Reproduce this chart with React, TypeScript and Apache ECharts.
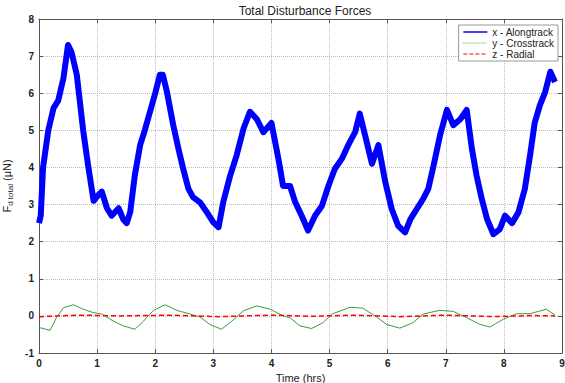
import React, { useEffect, useRef } from "react";
import * as echarts from "echarts";

const timeAlong = [0.0, 0.03, 0.07, 0.16, 0.25, 0.33, 0.42, 0.5, 0.56, 0.65, 0.76, 0.85, 0.94, 0.99, 1.08, 1.17, 1.25, 1.37, 1.45, 1.51, 1.57, 1.65, 1.74, 1.82, 1.91, 2.0, 2.08, 2.13, 2.2, 2.31, 2.4, 2.48, 2.57, 2.65, 2.77, 2.89, 3.0, 3.09, 3.17, 3.29, 3.4, 3.52, 3.63, 3.75, 3.86, 4.0, 4.12, 4.2, 4.32, 4.41, 4.52, 4.63, 4.75, 4.87, 4.98, 5.09, 5.21, 5.32, 5.44, 5.52, 5.64, 5.73, 5.84, 5.96, 6.07, 6.18, 6.3, 6.39, 6.5, 6.61, 6.7, 6.79, 6.9, 7.02, 7.13, 7.25, 7.36, 7.45, 7.53, 7.62, 7.71, 7.82, 7.93, 8.02, 8.14, 8.25, 8.36, 8.45, 8.53, 8.62, 8.71, 8.8, 8.88];
const alongtrack = [2.5, 2.7, 4.0, 5.0, 5.6, 5.8, 6.4, 7.3, 7.1, 6.5, 5.0, 4.0, 3.1, 3.2, 3.35, 2.9, 2.7, 2.9, 2.6, 2.5, 2.8, 3.8, 4.6, 5.0, 5.5, 6.0, 6.5, 6.5, 6.05, 5.14, 4.5, 3.97, 3.43, 3.2, 3.06, 2.79, 2.52, 2.39, 3.06, 3.78, 4.32, 5.05, 5.5, 5.3, 4.95, 5.2, 4.23, 3.5, 3.5, 3.06, 2.7, 2.3, 2.7, 2.97, 3.5, 3.96, 4.23, 4.6, 4.95, 5.45, 4.68, 4.1, 4.6, 3.6, 2.88, 2.43, 2.25, 2.6, 2.88, 3.15, 3.43, 4.05, 4.86, 5.55, 5.14, 5.3, 5.55, 4.5, 3.78, 3.15, 2.61, 2.2, 2.34, 2.7, 2.5, 2.79, 3.42, 4.32, 5.2, 5.68, 6.03, 6.58, 6.3];

const timeCross = [0.0, 0.02, 0.19, 0.3, 0.42, 0.59, 0.76, 0.93, 1.08, 1.28, 1.45, 1.65, 1.8, 1.97, 2.17, 2.37, 2.6, 2.77, 2.94, 3.14, 3.29, 3.52, 3.75, 3.98, 4.2, 4.32, 4.49, 4.69, 4.89, 5.04, 5.35, 5.57, 5.81, 5.98, 6.21, 6.44, 6.61, 6.9, 7.13, 7.36, 7.59, 7.76, 7.99, 8.22, 8.45, 8.73, 8.88];
const crosstrack = [-0.3, -0.32, -0.39, -0.05, 0.22, 0.3, 0.18, 0.09, 0.05, -0.14, -0.27, -0.36, -0.14, 0.15, 0.3, 0.15, 0.05, -0.03, -0.23, -0.36, -0.18, 0.14, 0.27, 0.18, 0.0, -0.05, -0.27, -0.34, -0.18, 0.05, 0.23, 0.21, -0.03, -0.23, -0.33, -0.18, 0.05, 0.15, 0.12, -0.05, -0.23, -0.3, -0.09, 0.06, 0.06, 0.18, 0.02];

const timeRadial = [0.0, 0.7, 1.4, 2.3, 3.1, 4.0, 4.7, 5.4, 6.2, 7.0, 7.8, 8.5, 8.88];
const radial = [-0.02, 0.02, 0.0, 0.02, -0.02, 0.02, -0.01, 0.02, -0.02, 0.02, -0.02, 0.01, 0.0];

const pairs = (xs: number[], ys: number[]) => xs.map((x, i) => [x, ys[i]]);

export default function App() {
  const ref = useRef<HTMLDivElement>(null);
  useEffect(() => {
    if (!ref.current) return;
    const chart = echarts.init(ref.current, undefined, { renderer: "svg" });
    const font = "Liberation Sans, Arial, sans-serif";
    const labelStyle = { color: "#222", fontSize: 10, fontFamily: font };
    const gridLine = { show: true, lineStyle: { color: "#bbb", type: "dotted" as const, width: 1 } };
    chart.setOption({
      animation: false,
      textStyle: { fontFamily: font },
      title: {
        text: "Total Disturbance Forces",
        left: 300,
        textAlign: "center",
        top: 0,
        textStyle: { fontSize: 12, fontWeight: "normal", color: "#222", fontFamily: font },
      },
      legend: {
        orient: "vertical",
        right: 7,
        top: 25,
        backgroundColor: "#fff",
        borderColor: "#999",
        borderWidth: 1,
        padding: [2, 4, 2, 4],
        itemGap: 1,
        itemWidth: 24,
        itemHeight: 12,
        itemStyle: { opacity: 0 },
        textStyle: { fontSize: 10, color: "#222", fontFamily: font },
        data: [
          { name: "x - Alongtrack", lineStyle: { color: "#0000ff", width: 1.5, type: "solid" } },
          { name: "y - Crosstrack", lineStyle: { color: "#55aa55", width: 1, type: "dotted" } },
          { name: "z - Radial", lineStyle: { color: "#ff0000", width: 1, type: "dashed" } },
        ],
      },
      grid: { left: 39, right: 3, top: 19, bottom: 30, outerBoundsMode: "none" },
      xAxis: [
        {
          type: "value",
          min: 0,
          max: 9,
          interval: 1,
          name: "Time (hrs)",
          nameLocation: "middle",
          nameGap: 19,
          nameTextStyle: { fontSize: 11, color: "#222", fontFamily: font },
          axisLine: { show: true, onZero: false, lineStyle: { color: "#555" } },
          axisTick: { show: true, inside: true, length: 4, lineStyle: { color: "#555" } },
          axisLabel: { ...labelStyle, margin: 5, fontWeight: "bold" },
          splitLine: gridLine,
        },
        {
          type: "value",
          position: "top",
          min: 0,
          max: 9,
          interval: 1,
          axisLine: { show: true, onZero: false, lineStyle: { color: "#555" } },
          axisTick: { show: true, inside: true, length: 4, lineStyle: { color: "#555" } },
          axisLabel: { show: false },
          splitLine: { show: false },
        },
      ],
      yAxis: [
        {
          type: "value",
          min: -1,
          max: 8,
          interval: 1,
          name: "F{sub|d total} (μN)",
          nameLocation: "middle",
          nameGap: 20,
          nameRotate: 90,
          nameTextStyle: {
            fontSize: 11,
            color: "#222",
            fontFamily: font,
            rich: { sub: { fontSize: 8, color: "#222", fontFamily: font, verticalAlign: "bottom", padding: [6, 0, 0, 0] } },
          },
          axisLine: { show: true, onZero: false, lineStyle: { color: "#555" } },
          axisTick: { show: true, inside: true, length: 4, lineStyle: { color: "#555" } },
          axisLabel: { ...labelStyle, margin: 5, fontWeight: "bold" },
          splitLine: gridLine,
        },
        {
          type: "value",
          position: "right",
          min: -1,
          max: 8,
          interval: 1,
          axisLine: { show: true, onZero: false, lineStyle: { color: "#555" } },
          axisTick: { show: true, inside: true, length: 4, lineStyle: { color: "#555" } },
          axisLabel: { show: false },
          splitLine: { show: false },
        },
      ],
      series: [
        {
          name: "x - Alongtrack",
          type: "line",
          symbol: "none",
          data: pairs(timeAlong, alongtrack),
          lineStyle: { color: "#0000ff", width: 6, join: "round" },
          itemStyle: { color: "#0000ff" },
          z: 3,
        },
        {
          name: "y - Crosstrack",
          type: "line",
          symbol: "none",
          data: pairs(timeCross, crosstrack),
          lineStyle: { color: "#3c9a3c", width: 1 },
          itemStyle: { color: "#55aa55" },
          z: 2,
        },
        {
          name: "z - Radial",
          type: "line",
          symbol: "none",
          data: pairs(timeRadial, radial),
          lineStyle: { color: "#ff0000", width: 1.5, type: [5, 3] },
          itemStyle: { color: "#ff0000" },
          z: 4,
        },
      ],
    });
    return () => chart.dispose();
  }, []);
  return <div ref={ref} style={{ width: 565, height: 383, position: "absolute", left: 0, top: 0, background: "#fff" }} />;
}
